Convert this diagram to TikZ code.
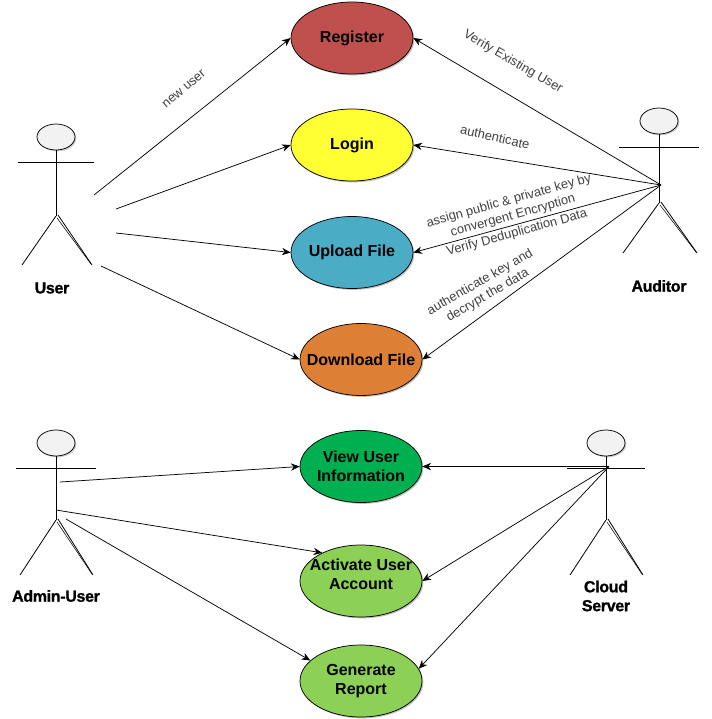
\documentclass[tikz,border=0pt]{standalone}
\usepackage{fontspec}
\setmainfont{Liberation Sans}
\newfontfamily\heavyfont[FakeBold=1.2,LetterSpace=-2]{Liberation Sans Bold}
\usetikzlibrary{arrows.meta,shadows,shapes.geometric}
\definecolor{cReg}{HTML}{C0504D}
\definecolor{cLog}{HTML}{FFFF33}
\definecolor{cUp}{HTML}{4BACC6}
\definecolor{cDown}{HTML}{DD8035}
\definecolor{cView}{HTML}{00B050}
\definecolor{cAct}{HTML}{8CD155}
\definecolor{cHead}{HTML}{F2F2F2}
\tikzset{
  casetxt/.style={inner sep=0pt,align=center,font=\fontsize{12}{14.2}\selectfont\bfseries},
  usecase/.style={draw=black,line width=0.55pt,ellipse,minimum width=91.5pt,minimum height=54pt,inner ysep=0pt,inner xsep=-13pt,align=center,font=\fontsize{12}{14.2}\selectfont\bfseries,drop shadow={shadow xshift=1pt,shadow yshift=-1pt,opacity=0.25,fill=black}},
  actorname/.style={font=\fontsize{12}{14.2}\selectfont\heavyfont,align=center,inner sep=0pt},
  actorline/.style={draw=black,line width=0.6pt},
  conn/.style={draw=black,line width=0.55pt,-{Stealth[length=6.5pt,width=5.5pt]}},
  lbl/.style={font=\fontsize{9.7}{11.5}\selectfont,text=black!75,align=center,inner sep=0pt}
}
% \actorfig{name}{cx}{head y}{arm y}{hip y}{foot y}{half arm}{left leg}{right leg}
\newcommand{\actorfig}[9]{%
  \node[draw=black,line width=0.55pt,fill=cHead,ellipse,minimum width=28.5pt,minimum height=19.5pt,inner sep=0pt,drop shadow={shadow xshift=1pt,shadow yshift=-1pt,opacity=0.2,fill=black}] (#1head) at (#2,#3) {};
  \coordinate (#1hip) at (#2,#5);
  \coordinate (#1armL) at (#2-#7,#4);
  \coordinate (#1armR) at (#2+#7,#4);
  \coordinate (#1footL) at (#8,#6);
  \coordinate (#1footR) at (#9,#6);
  \draw[actorline] (#1head.south) -- (#1hip);
  \draw[actorline] (#1armL) -- (#1armR);
  \draw[actorline] (#1hip) -- (#1footL);
  \draw[actorline] (#2+2,#5-1) -- (#1footR);
  \draw[actorline,line width=0.4pt] (#2+1,#5+2) -- (#9-1,#6-1);
}
\begin{document}
\begin{tikzpicture}[x=0.75pt,y=-0.75pt]
\useasboundingbox (0,0) rectangle (712,719);
\node[usecase,fill=cReg] (reg) at (352,38) {Register};
\node[usecase,fill=cLog] (log) at (352,145) {Login};
\node[usecase,fill=cUp] (upl) at (352,252.5) {Upload File};
\node[usecase,fill=cDown] (dow) at (361,359.5) {Download File};
\node[usecase,fill=cView] (vie) at (361,466.5) {View User\\Information};
\node[usecase,fill=cAct,label={[casetxt,yshift=5.25pt]center:Activate User\\Account}] (act) at (361,581) {};
\node[usecase,fill=cAct] (gen) at (361,681) {Generate\\Report};
\actorfig{us}{56}{137}{162}{216}{265}{38}{22}{92}
\actorfig{au}{659}{121}{147}{203}{253}{40}{623}{697}
\actorfig{ad}{56}{443}{468}{520}{575}{40}{20}{93}
\actorfig{cl}{606}{443}{468}{520}{575}{39}{570}{643}
\node[actorname] (usn) at (52,288) {User};
\node[actorname] (aun) at (659,286) {Auditor};
\node[actorname] (adn) at (56,596) {Admin-User};
\node[actorname] (cln) at (606,596) {Cloud\\Server};
\coordinate (u1) at (94,195);
\coordinate (u2) at (116,209);
\coordinate (u3) at (116,233);
\coordinate (u4) at (101,266);
\coordinate (a0) at (661,185);
\coordinate (c0) at (609,466.5);
\coordinate (d1) at (60,482);
\coordinate (d2) at (56,510);
\coordinate (d3) at (66,519);
\draw[conn] (u1) -- (reg.west);
\draw[conn] (u2) -- (log.west);
\draw[conn] (u3) -- (upl.west);
\draw[conn] (u4) -- (dow.west);
\draw[conn] (a0) -- (reg.east);
\draw[conn] (a0) -- (log.east);
\draw[conn] (a0) -- (upl.east);
\draw[conn] (a0) -- (dow.east);
\draw[conn] (c0) -- (vie.east);
\draw[conn] (c0) -- (act.east);
\draw[conn] (c0) -- (gen.12);
\draw[conn] (d1) -- (vie.west);
\draw[conn] (d2) -- (act.144);
\draw[conn] (d3) -- (gen.158);
\node[lbl,rotate=40] (l1) at (184,89) {new user};
\node[lbl,rotate=-30] (l2) at (513,62) {Verify Existing User};
\node[lbl,rotate=-13] (l3) at (495,137) {authenticate};
\node[lbl,rotate=15.5] (l4) at (511,208.5) {assign public \& private key by\\convergent Encryption};
\node[lbl,rotate=15.5] (l5) at (517,233) {Verify Deduplication Data};
\node[lbl,rotate=30] (l6) at (484,289) {authenticate key and\\decrypt the data};
\end{tikzpicture}
\end{document}
